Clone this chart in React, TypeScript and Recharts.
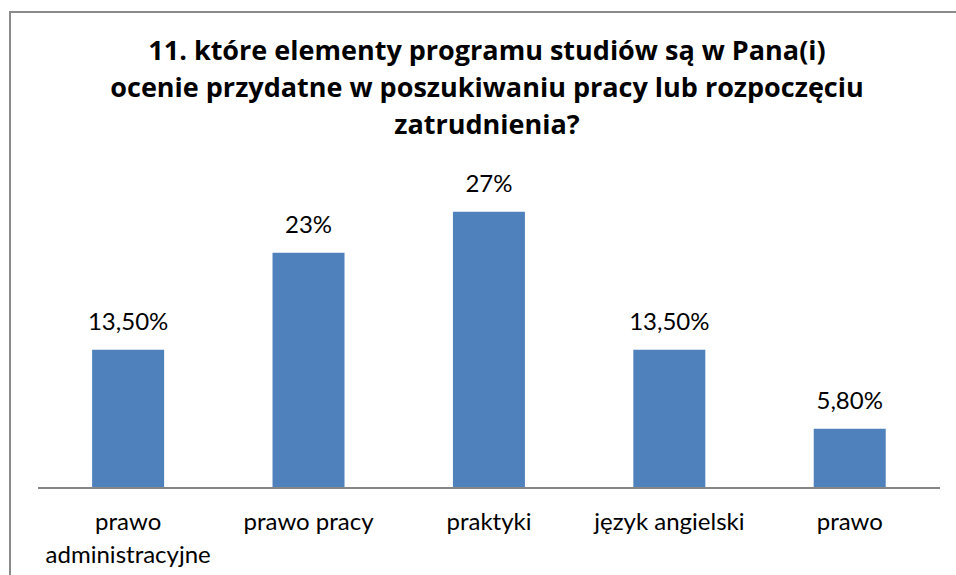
import { BarChart, Bar, XAxis, YAxis, LabelList } from 'recharts';

const categories = ['prawo administracyjne', 'prawo pracy', 'praktyki', 'język angielski', 'prawo'];
const values = [13.5, 23, 27, 13.5, 5.8];
const valueLabels = ['13,50%', '23%', '27%', '13,50%', '5,80%'];
const titleLines = [
  '11. które elementy programu studiów są w Pana(i)',
  'ocenie przydatne w poszukiwaniu pracy lub rozpoczęciu',
  'zatrudnienia?',
];

const data = categories.map((name, i) => ({ name, value: values[i], label: valueLabels[i] }));

const FONT = 'Lato, "Open Sans", sans-serif';

// long names go on two lines, like the original
function wrap(s: string): string[] {
  return s.length > 16 ? s.split(' ') : [s];
}

function CategoryTick(props: any) {
  const { x, y, payload } = props;
  const lines = wrap(payload.value);
  return (
    <text x={x} y={y} textAnchor="middle" fontSize={24} fontFamily={FONT} fill="#000">
      {lines.map((l, i) => (
        <tspan key={i} x={x} dy={i === 0 ? 34 : 33}>
          {l}
        </tspan>
      ))}
    </text>
  );
}

export default function App() {
  return (
    <div style={{ position: 'fixed', left: 0, top: 0, width: 956, height: 575, overflow: 'hidden', background: '#fff' }}>
      <div
        style={{
          position: 'absolute',
          left: 9,
          top: 11,
          width: 1000,
          height: 700,
          border: '2px solid #8a8a8a',
        }}
      />
      <svg width={956} height={160} style={{ position: 'absolute', left: 0, top: 0 }}>
        {titleLines.map((line, i) => (
          <text
            key={i}
            x={487}
            y={60 + i * 37}
            textAnchor="middle"
            fontFamily='"Open Sans", sans-serif'
            fontWeight="bold"
            fontSize={27}
            fill="#000"
          >
            {line}
          </text>
        ))}
      </svg>
      <div style={{ position: 'absolute', left: 0, top: 0 }}>
        <BarChart
          width={956}
          height={575}
          data={data}
          margin={{ top: 181, right: 16, left: 38, bottom: 0 }}
          barCategoryGap="30%"
        >
          <XAxis
            dataKey="name"
            height={87}
            axisLine={{ stroke: '#868686', strokeWidth: 2 }}
            tickLine={false}
            interval={0}
            tick={<CategoryTick />}
          />
          <YAxis hide domain={[0, 30]} />
          <Bar dataKey="value" fill="#4f81bd" isAnimationActive={false}>
            <LabelList
              dataKey="label"
              position="top"
              offset={20}
              fontSize={24}
              fontFamily={FONT}
              fill="#000"
            />
          </Bar>
        </BarChart>
      </div>
    </div>
  );
}
